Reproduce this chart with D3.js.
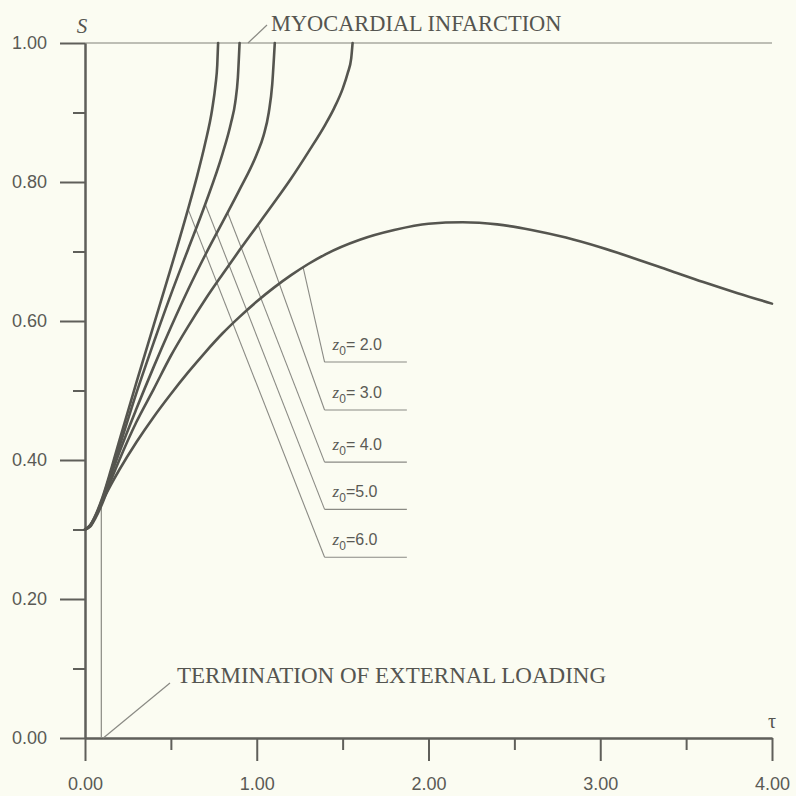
<!DOCTYPE html>
<html>
<head>
<meta charset="utf-8">
<script src="https://cdn.jsdelivr.net/npm/d3@7"></script>
<style>
  html, body { margin: 0; padding: 0; background: #fbfcf2; }
  svg { display: block; }
</style>
</head>
<body>
<svg id="chart" width="796" height="796"></svg>
<script>
// ---------- data ----------
const xMajorTicks = [0, 1, 2, 3, 4];
const xMinorTicks = [0.5, 1.5, 2.5, 3.5];
const yMajorTicks = [0, 0.2, 0.4, 0.6, 0.8, 1.0];
const yMinorTicks = [0.1, 0.3, 0.5, 0.7, 0.9];

const seriesNames = ["z0=2.0", "z0=3.0", "z0=4.0", "z0=5.0", "z0=6.0"];

const tauZ6 = [0, 0.03, 0.06, 0.1, 0.15, 0.2, 0.3, 0.4, 0.5, 0.6, 0.65, 0.7, 0.74, 0.76, 0.77, 0.775];
const sZ6   = [0.30, 0.306, 0.32, 0.345, 0.385, 0.428, 0.512, 0.594, 0.676, 0.761, 0.806, 0.856, 0.904, 0.94, 0.968, 1.0];

const tauZ5 = [0, 0.03, 0.06, 0.1, 0.15, 0.2, 0.3, 0.4, 0.5, 0.6, 0.7, 0.8, 0.85, 0.875, 0.89, 0.90];
const sZ5   = [0.30, 0.306, 0.319, 0.343, 0.381, 0.419, 0.497, 0.569, 0.638, 0.703, 0.768, 0.84, 0.885, 0.915, 0.95, 1.0];

const tauZ4 = [0, 0.03, 0.06, 0.1, 0.15, 0.2, 0.3, 0.4, 0.5, 0.6, 0.7, 0.8, 0.9, 1.0, 1.04, 1.07, 1.09, 1.105];
const sZ4   = [0.30, 0.305, 0.318, 0.341, 0.377, 0.411, 0.474, 0.534, 0.591, 0.645, 0.695, 0.742, 0.789, 0.84, 0.867, 0.9, 0.94, 1.0];

const tauZ3 = [0, 0.03, 0.06, 0.1, 0.15, 0.2, 0.3, 0.4, 0.5, 0.6, 0.7, 0.8, 0.9, 1.0, 1.1, 1.2, 1.3, 1.4, 1.45, 1.5, 1.53, 1.55, 1.558];
const sZ3   = [0.30, 0.304, 0.316, 0.337, 0.37, 0.40, 0.455, 0.502, 0.55, 0.592, 0.631, 0.667, 0.702, 0.736, 0.77, 0.805, 0.843, 0.883, 0.906, 0.934, 0.957, 0.978, 1.0];

const tauZ2 = [0, 0.03, 0.06, 0.1, 0.15, 0.2, 0.3, 0.4, 0.5, 0.6, 0.7, 0.8, 0.9, 1.0, 1.1, 1.2, 1.3, 1.4, 1.6, 1.8, 2.0, 2.2, 2.4, 2.6, 2.8, 3.0, 3.2, 3.4, 3.6, 3.8, 4.0];
const sZ2   = [0.30, 0.306, 0.318, 0.34, 0.364, 0.386, 0.426, 0.462, 0.495, 0.526, 0.555, 0.582, 0.606, 0.628, 0.648, 0.666, 0.682, 0.696, 0.717, 0.731, 0.740, 0.742, 0.739, 0.731, 0.720, 0.706, 0.690, 0.673, 0.656, 0.640, 0.625];

// label annotations (data units): anchor tau on each curve -> label line level
const labelAnchorTau = [1.27, 1.008, 0.83, 0.70, 0.60];
const labelLineS     = [0.541, 0.472, 0.397, 0.329, 0.260];
const labelNums      = ["= 2.0", "= 3.0", "= 4.0", "=5.0", "=6.0"];
const labelLineTau   = [1.395, 1.874];

const terminationTau = 0.095;

// ---------- chart ----------
const svg = d3.select("#chart");
svg.append("rect").attr("width", 796).attr("height", 796).attr("fill", "#fbfcf2");

const x = d3.scaleLinear().domain([0, 4]).range([85, 772]);
const y = d3.scaleLinear().domain([0, 1]).range([738, 43]);

const axisColor = "#5f5f5a";
const curveColor = "#55554f";
const thinColor = "#8a8a84";
const textColor = "#555550";

const seriesTau = [tauZ2, tauZ3, tauZ4, tauZ5, tauZ6];
const seriesS = [sZ2, sZ3, sZ4, sZ5, sZ6];
function interpS(i, t) {
  const taus = seriesTau[i], ss = seriesS[i];
  for (let j = 1; j < taus.length; j++) {
    if (t <= taus[j]) {
      const f = (t - taus[j - 1]) / (taus[j] - taus[j - 1]);
      return ss[j - 1] + f * (ss[j] - ss[j - 1]);
    }
  }
  return ss[ss.length - 1];
}

// top line S = 1
svg.append("line")
  .attr("x1", x(0)).attr("x2", x(4)).attr("y1", y(1)).attr("y2", y(1))
  .attr("stroke", "#808079").attr("stroke-width", 1.2);

// axes
const gx = svg.append("g").attr("transform", `translate(0,${y(0)})`)
  .call(d3.axisBottom(x).tickValues(xMajorTicks).tickSize(23).tickSizeOuter(0).tickPadding(16).tickFormat(d3.format(".2f")));
const gxm = svg.append("g").attr("transform", `translate(0,${y(0)})`)
  .call(d3.axisBottom(x).tickValues(xMinorTicks).tickSize(12).tickSizeOuter(0).tickFormat(""));
const gy = svg.append("g").attr("transform", `translate(${x(0)},0)`)
  .call(d3.axisLeft(y).tickValues(yMajorTicks).tickSize(25).tickSizeOuter(0).tickPadding(13).tickFormat(d3.format(".2f")));
const gym = svg.append("g").attr("transform", `translate(${x(0)},0)`)
  .call(d3.axisLeft(y).tickValues(yMinorTicks).tickSize(12).tickSizeOuter(0).tickFormat(""));

[gx, gxm, gy, gym].forEach(g => {
  g.selectAll("path.domain").attr("stroke", axisColor).attr("stroke-width", 2);
  g.selectAll(".tick line").attr("stroke", axisColor).attr("stroke-width", 2);
  g.selectAll(".tick text").attr("fill", "#5a5a55")
    .attr("font-family", "'Liberation Sans', Arial, sans-serif").attr("font-size", 18);
});

// axis titles
svg.append("text").attr("x", 82).attr("y", 33).attr("text-anchor", "middle")
  .attr("font-family", "'Liberation Serif', 'Times New Roman', serif").attr("font-style", "italic")
  .attr("font-size", 21).attr("fill", textColor).text("S");
svg.append("text").attr("x", 772).attr("y", 728).attr("text-anchor", "middle")
  .attr("font-family", "'Liberation Serif', 'Times New Roman', serif")
  .attr("font-size", 20).attr("fill", textColor).text("τ");

// termination line and leader
svg.append("line")
  .attr("x1", x(terminationTau)).attr("x2", x(terminationTau))
  .attr("y1", y(0)).attr("y2", y(interpS(0, terminationTau)))
  .attr("stroke", thinColor).attr("stroke-width", 1.2);
svg.append("line")
  .attr("x1", x(terminationTau) + 2).attr("y1", y(0))
  .attr("x2", 170).attr("y2", 683)
  .attr("stroke", thinColor).attr("stroke-width", 1.2);
svg.append("text").attr("x", 177).attr("y", 683)
  .attr("font-family", "'Liberation Serif', 'Times New Roman', serif")
  .attr("font-size", 23).attr("fill", textColor).text("TERMINATION OF EXTERNAL LOADING");

// myocardial infarction leader
svg.append("line").attr("x1", 248).attr("y1", y(1)).attr("x2", 267).attr("y2", 25)
  .attr("stroke", thinColor).attr("stroke-width", 1.2);
svg.append("text").attr("x", 271).attr("y", 31)
  .attr("font-family", "'Liberation Serif', 'Times New Roman', serif")
  .attr("font-size", 22.4).attr("fill", textColor).text("MYOCARDIAL INFARCTION");

// label leaders
seriesNames.forEach((name, i) => {
  svg.append("line")
    .attr("x1", x(labelAnchorTau[i])).attr("y1", y(interpS(i, labelAnchorTau[i])))
    .attr("x2", x(labelLineTau[0])).attr("y2", y(labelLineS[i]))
    .attr("stroke", thinColor).attr("stroke-width", 1.1);
  svg.append("line")
    .attr("x1", x(labelLineTau[0])).attr("y1", y(labelLineS[i]))
    .attr("x2", x(labelLineTau[1])).attr("y2", y(labelLineS[i]))
    .attr("stroke", thinColor).attr("stroke-width", 1.1);
  const t = svg.append("text").attr("x", x(labelLineTau[0]) + 8).attr("y", y(labelLineS[i]) - 12)
    .attr("font-family", "'Liberation Sans', Arial, sans-serif").attr("font-size", 16).attr("fill", "#5a5a55");
  t.append("tspan").attr("font-family", "'Liberation Serif', serif").attr("font-style", "italic").attr("font-size", 17).text("z");
  t.append("tspan").attr("dy", 5).attr("font-size", 12).text("0");
  t.append("tspan").attr("dy", -5).text(labelNums[i]);
});

// curves
const line = d3.line().x(d => x(d[0])).y(d => y(d[1])).curve(d3.curveMonotoneX);
seriesTau.forEach((taus, i) => {
  const pts = taus.map((t, j) => [t, seriesS[i][j]]);
  svg.append("path").datum(pts).attr("d", line)
    .attr("fill", "none").attr("stroke", curveColor).attr("stroke-width", 2.6)
    .attr("stroke-linecap", "round");
});
</script>
</body>
</html>
